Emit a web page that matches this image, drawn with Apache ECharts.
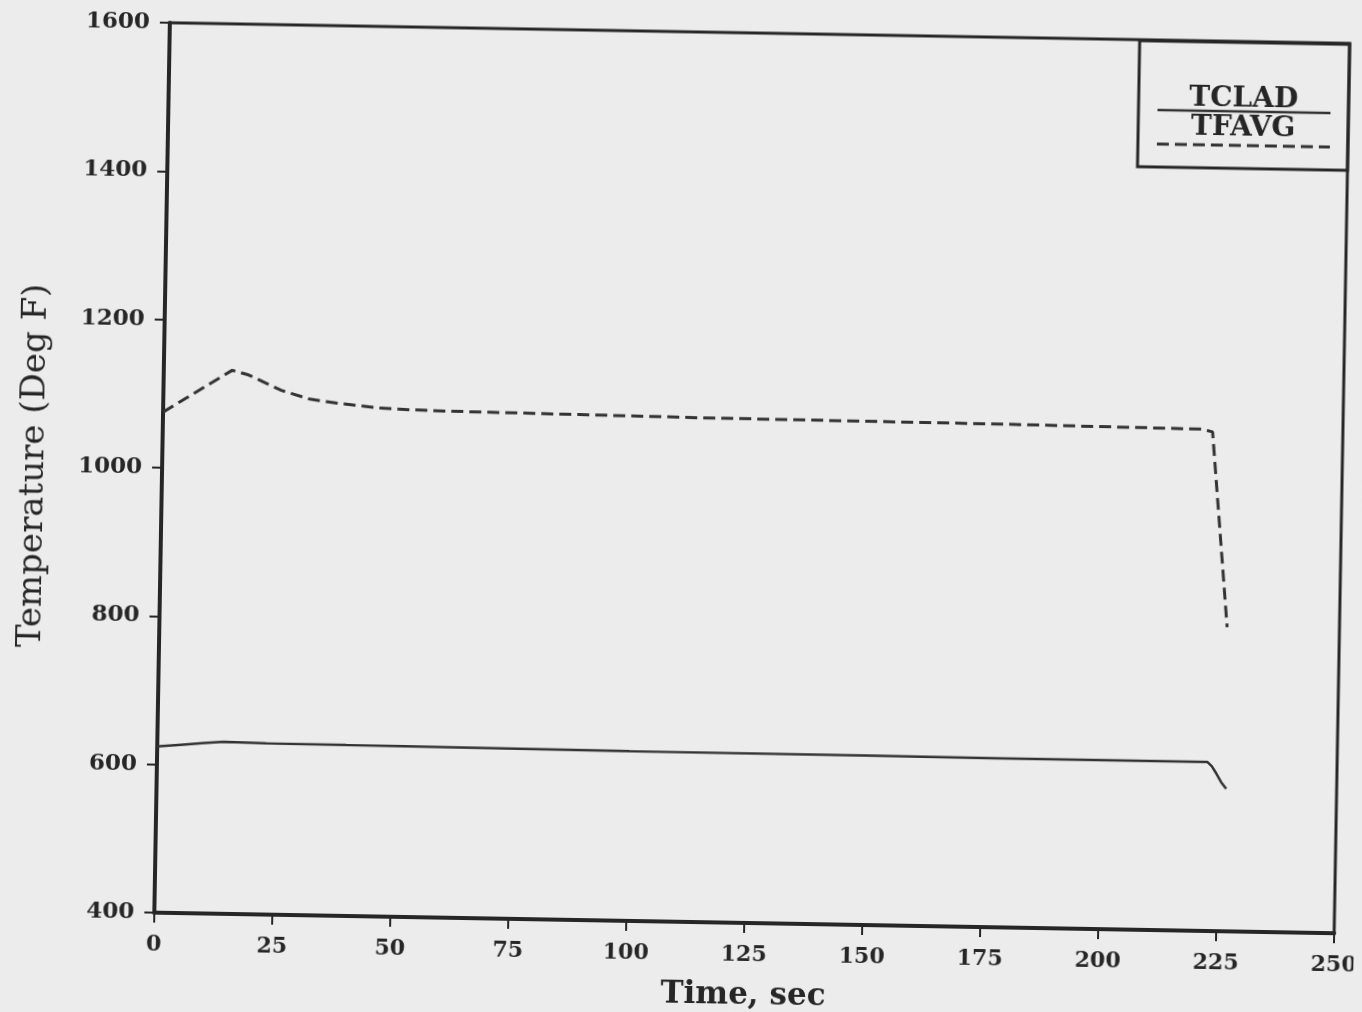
<!DOCTYPE html>
<html>
<head>
<meta charset="utf-8">
<script src="https://cdn.jsdelivr.net/npm/echarts@6/dist/echarts.min.js"></script>
<style>
  html, body { margin: 0; padding: 0; background: #ececec; overflow: hidden; }
  #chart {
    position: absolute; left: 0; top: 0; width: 1362px; height: 1012px;
    transform-origin: 752px 478px; transform: rotate(1deg);
  }
</style>
</head>
<body>
<div id="chart"></div>
<script>
// Time axis (sec) ticks and temperature axis (Deg F) ticks
const timeTicks = [0, 25, 50, 75, 100, 125, 150, 175, 200, 225, 250];
const tempTicks = [400, 600, 800, 1000, 1200, 1400, 1600];

// Cladding temperature history [time, temp]
const tcladTime = [0, 5, 10, 14, 23, 40, 62, 100, 150, 178, 222.5, 223.5, 224.5, 225.5, 226.6];
const tcladTemp = [624, 627, 630, 632, 631, 630.5, 630, 629, 628.5, 628, 628, 622, 612, 601, 592];

// Average fuel temperature history [time, temp]
const tfavgTime = [0, 5, 10, 14.5, 18, 25, 31, 37, 45, 52, 60, 114, 177, 220, 222.4, 226.2];
const tfavgTemp = [1075, 1095, 1115, 1133, 1127, 1107, 1096, 1091, 1086, 1084, 1083, 1080, 1078.5, 1076.5, 1073, 810];

const seriesNames = ['TCLAD', 'TFAVG'];

const pairs = (xs, ys) => xs.map((x, i) => [x, ys[i]]);

const ink = '#262626';
const font = 'DejaVu Serif';

const chart = echarts.init(document.getElementById('chart'), null, { renderer: 'canvas' });

chart.setOption({
  backgroundColor: '#ececec',
  animation: false,
  grid: {
    left: 162, right: 20, top: 33, bottom: 89,
    outerBoundsMode: 'none', containLabel: false,
    show: true, borderColor: ink, borderWidth: 3, backgroundColor: 'transparent'
  },
  xAxis: {
    type: 'value',
    min: timeTicks[0], max: timeTicks[timeTicks.length - 1], interval: 25,
    name: 'Time, sec', nameLocation: 'middle', nameGap: 57,
    nameTextStyle: { fontFamily: font, fontSize: 31, fontWeight: 'bold', color: ink },
    axisLine: { show: true, lineStyle: { color: ink, width: 4 } },
    axisTick: { show: true, inside: false, length: 10, lineStyle: { color: ink, width: 2 } },
    axisLabel: { margin: 21, fontFamily: font, fontSize: 22, fontWeight: 'bold', color: ink,
      formatter: v => String(v) },
    splitLine: { show: false }
  },
  yAxis: {
    type: 'value',
    min: tempTicks[0], max: tempTicks[tempTicks.length - 1], interval: 200,
    name: 'Temperature (Deg F)', nameLocation: 'middle', nameGap: 111,
    nameTextStyle: { fontFamily: font, fontSize: 34, color: ink },
    axisLine: { show: true, lineStyle: { color: ink, width: 4 } },
    axisTick: { show: true, inside: false, length: 10, lineStyle: { color: ink, width: 2 } },
    axisLabel: { margin: 20, fontFamily: font, fontSize: 23, fontWeight: 'bold', color: ink,
      formatter: v => String(v) },
    splitLine: { show: false }
  },
  series: [
    {
      name: seriesNames[0], type: 'line', showSymbol: false,
      data: pairs(tcladTime, tcladTemp),
      lineStyle: { color: '#333', width: 2.5, type: 'solid' }
    },
    {
      name: seriesNames[1], type: 'line', showSymbol: false,
      data: pairs(tfavgTime, tfavgTemp),
      lineStyle: { color: '#333', width: 3, type: [12, 6] }
    }
  ],
  // Legend box in the top-right corner: name above its line sample
  graphic: [
    { type: 'rect', shape: { x: 1132, y: 34, width: 210, height: 126 },
      style: { fill: 'transparent', stroke: ink, lineWidth: 3 } },
    { type: 'text', x: 1237, y: 91,
      style: { text: seriesNames[0], font: 'bold 28px "DejaVu Serif"', fill: ink, align: 'center', verticalAlign: 'middle' } },
    { type: 'line', shape: { x1: 1151, y1: 103, x2: 1324, y2: 103 },
      style: { stroke: '#333', lineWidth: 2.5 } },
    { type: 'text', x: 1237, y: 120,
      style: { text: seriesNames[1], font: 'bold 28px "DejaVu Serif"', fill: ink, align: 'center', verticalAlign: 'middle' } },
    { type: 'line', shape: { x1: 1151, y1: 137, x2: 1324, y2: 137 },
      style: { stroke: '#333', lineWidth: 3, lineDash: [12, 6] } }
  ]
});
</script>
</body>
</html>
